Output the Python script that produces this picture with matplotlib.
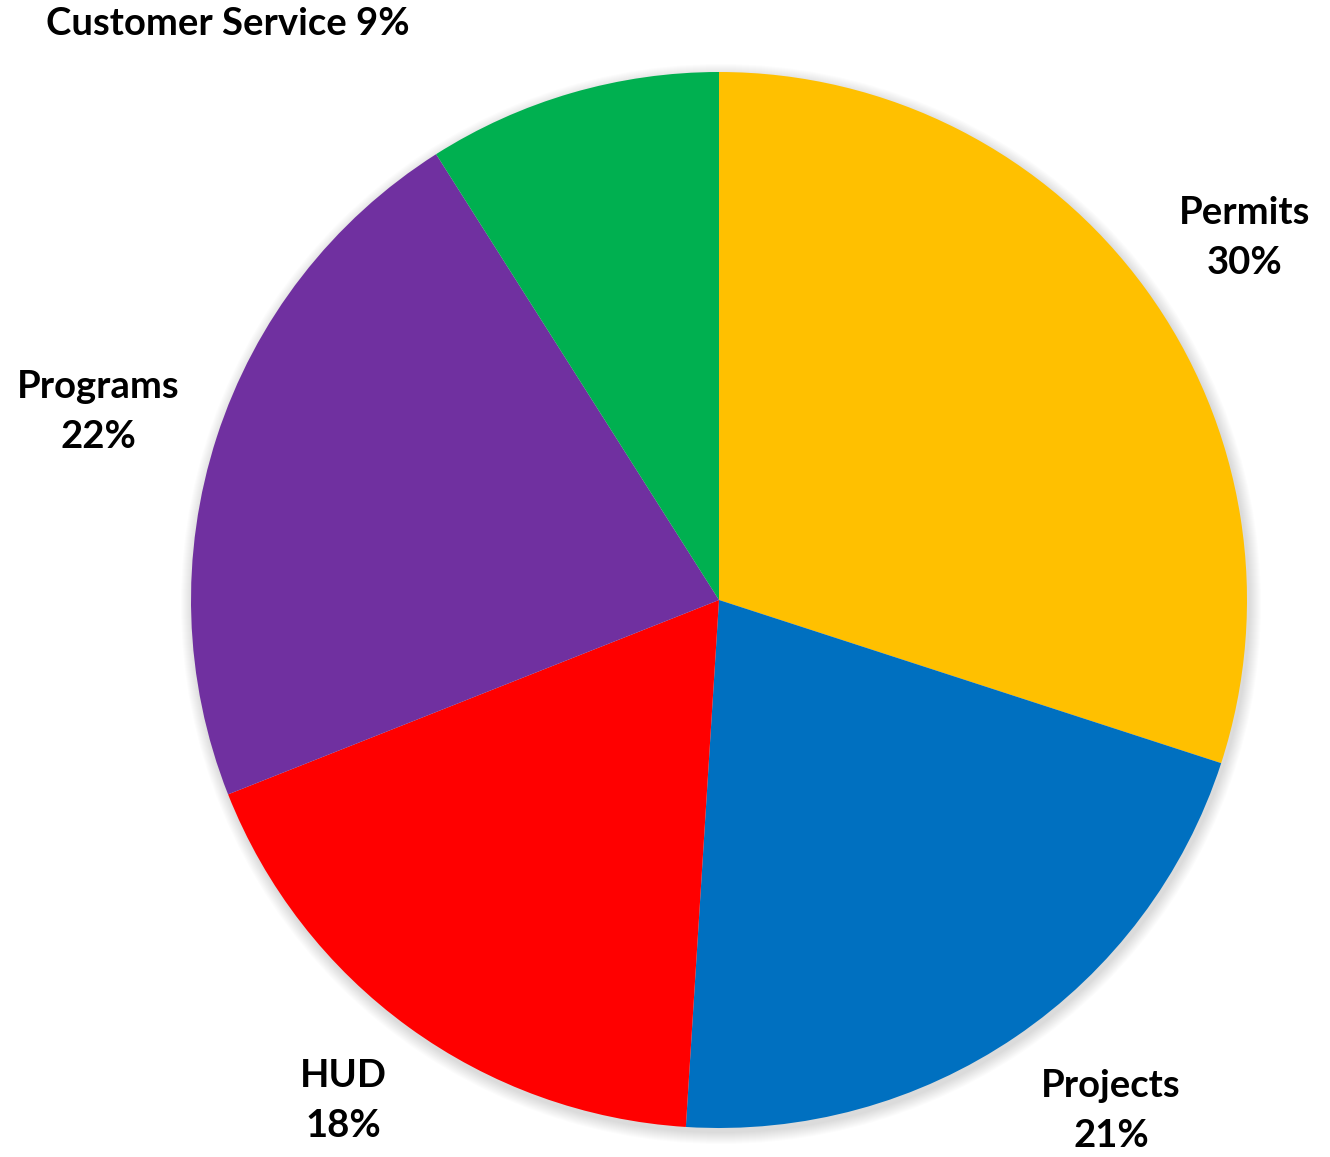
import numpy as np
import matplotlib
matplotlib.use("Agg")
import matplotlib.pyplot as plt

# Dados do gráfico
categorias = ["Permits", "Projects", "HUD", "Programs", "Customer Service"]
percentuais = [30, 21, 18, 22, 9]
cores = ["#FFC000", "#0070C0", "#FF0000", "#7030A0", "#00B050"]

# Posição dos rótulos (pixels, origem no canto superior esquerdo)
rotulos_texto = ["Permits\n30%", "Projects\n21%", "HUD\n18%", "Programs\n22%",
                 "Customer Service 9%"]
rotulos_pos = [(1245, 238), (1111, 1111), (343, 1101), (98, 412), (228, 24)]

plt.rcParams.update({"font.family": ["Lato", "DejaVu Sans"],
                     "font.weight": "bold"})

W, H = 1330, 1157
fig = plt.figure(figsize=(W / 100, H / 100), dpi=100)
ax = fig.add_axes([0, 0, 1, 1])

centro = (719, H - 600)
raio = 528

# sombra suave em volta da pizza
for k in range(12, 0, -1):
    ax.add_patch(plt.Circle((centro[0] + 2, centro[1] - 4), raio + k,
                            color="black", alpha=0.012, lw=0))

ax.pie(percentuais, colors=cores, startangle=90, counterclock=False,
       center=centro, radius=raio, frame=True,
       wedgeprops={"linewidth": 0})
ax.set_xlim(0, W)
ax.set_ylim(0, H)
ax.set_aspect("equal")
ax.axis("off")

for txt, (x, y) in zip(rotulos_texto, rotulos_pos):
    ax.text(x, H - y, txt, ha="center", va="center", fontsize=27.5,
            fontweight="bold", linespacing=1.6, color="black")

fig.savefig("out.png", dpi=100)
